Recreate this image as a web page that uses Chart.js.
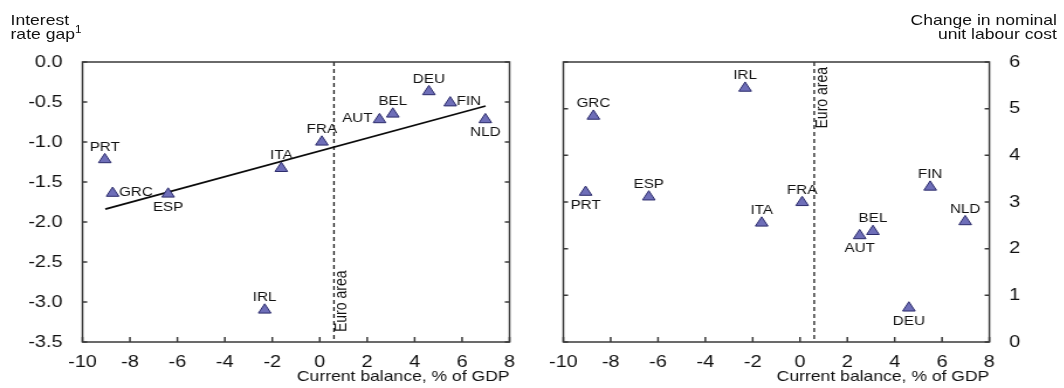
<!DOCTYPE html>
<html>
<head>
<meta charset="utf-8">
<script src="https://cdn.jsdelivr.net/npm/chart.js@4.4.1/dist/chart.umd.min.js"></script>
<style>
  html, body { margin: 0; padding: 0; background: #fff; }
  body { width: 1064px; height: 388px; overflow: hidden; position: relative; }
  /* charts are laid out on a narrower sheet and widened horizontally */
  #sheet {
    position: absolute; left: 0; top: 0;
    width: 909.4px; height: 388px;
    transform: scaleX(1.17); transform-origin: 0 0;
    font-family: 'Liberation Sans', Arial, Helvetica, sans-serif; color: #111;
  }
  canvas { position: absolute; top: 0; }
  .hdr { position: absolute; top: 12.8px; font-size: 15px; line-height: 14px; white-space: nowrap; }
  .hdr sup { font-size: 10px; position: relative; vertical-align: baseline; line-height: 0; }
</style>
</head>
<body>
<div id="sheet">
  <canvas id="gapChart" width="453" height="388" style="left:0;width:453px;height:388px"></canvas>
  <canvas id="ulcChart" width="456" height="388" style="left:453px;width:456px;height:388px"></canvas>
  <div class="hdr" style="left:9px">Interest<br>rate gap<sup style="top:-6px">1</sup></div>
  <div class="hdr" style="right:6px;text-align:right">Change in nominal<br>unit labour cost</div>
</div>
<script>
// Euro-area members
const countries = ['PRT', 'GRC', 'ESP', 'ITA', 'FRA', 'AUT', 'BEL', 'DEU', 'FIN', 'NLD', 'IRL'];
// Current account balance, % of GDP
const currentBalance = [-9.06, -8.73, -6.39, -1.62, 0.09, 2.52, 3.08, 4.60, 5.50, 6.98, -2.32];
// Interest rate gap
const rateGap = [-1.22, -1.64, -1.65, -1.33, -1.00, -0.72, -0.65, -0.37, -0.51, -0.72, -3.10];
// Change in nominal unit labour cost
const ulcChange = [3.21, 4.84, 3.11, 2.55, 2.99, 2.28, 2.37, 0.73, 3.32, 2.58, 5.44];

// Where each country label sits relative to its marker
const gapLabelPos = ['above', 'right', 'below', 'above', 'above', 'left', 'above', 'above', 'right', 'below', 'above'];
const ulcLabelPos = ['below', 'above', 'above', 'above', 'above', 'below', 'above', 'below', 'above', 'above', 'above'];

// Fitted line through the interest-rate-gap panel (end points)
const trendX = [-9.04, 6.99];
const trendY = [-1.84, -0.55];

// Euro-area current balance
const euroArea = 0.6;

// Tick values
const xTicks = [-10, -8, -6, -4, -2, 0, 2, 4, 6, 8];
const gapTicks = [-3.5, -3.0, -2.5, -2.0, -1.5, -1.0, -0.5, 0.0];
const ulcTicks = [0, 1, 2, 3, 4, 5, 6];

const FAMILY = "'Liberation Sans', Arial, Helvetica, sans-serif";
const INK = '#111';

// Dashed euro-area marker, country labels, framed plot box with inward ticks
const panelPlugin = {
  id: 'panel',
  beforeDatasetsDraw(chart, args, opts) {
    const { ctx, chartArea: a, scales: { x } } = chart;
    const ex = x.getPixelForValue(euroArea);
    ctx.save();
    ctx.strokeStyle = '#1a1a1a';
    ctx.lineWidth = 1.3;
    ctx.setLineDash([4, 3]);
    ctx.beginPath();
    ctx.moveTo(ex, a.top);
    ctx.lineTo(ex, a.bottom);
    ctx.stroke();
    ctx.setLineDash([]);
    ctx.translate(ex, opts.euroAtTop ? a.top + 5 : a.bottom - 10);
    ctx.rotate(-Math.PI / 2);
    ctx.font = '14px ' + FAMILY;
    ctx.fillStyle = INK;
    ctx.textBaseline = 'top';
    ctx.textAlign = opts.euroAtTop ? 'right' : 'left';
    ctx.fillText('Euro area', 0, 0);
    ctx.restore();
  },
  afterDatasetsDraw(chart, args, opts) {
    const { ctx } = chart;
    const meta = chart.getDatasetMeta(opts.pointDataset);
    ctx.save();
    ctx.font = '13px ' + FAMILY;
    ctx.fillStyle = INK;
    ctx.textBaseline = 'middle';
    meta.data.forEach((pt, i) => {
      const pos = opts.labelPos[i];
      const name = countries[i];
      if (pos === 'above') {
        ctx.textAlign = 'center';
        ctx.fillText(name, pt.x, pt.y - 12.5);
      } else if (pos === 'below') {
        ctx.textAlign = 'center';
        ctx.fillText(name, pt.x, pt.y + 13);
      } else if (pos === 'left') {
        ctx.textAlign = 'right';
        ctx.fillText(name, pt.x - 6, pt.y - 1);
      } else {
        ctx.textAlign = 'left';
        ctx.fillText(name, pt.x + 5.5, pt.y - 1);
      }
    });
    ctx.restore();
  },
  afterDraw(chart) {
    const { ctx, chartArea: a, scales: { x, y } } = chart;
    ctx.save();
    ctx.strokeStyle = '#3a3a3a';
    ctx.lineWidth = 1.5;
    ctx.beginPath();
    x.ticks.forEach(t => {
      const px = x.getPixelForValue(t.value);
      ctx.moveTo(px, a.bottom);
      ctx.lineTo(px, a.bottom - 5);
    });
    y.ticks.forEach(t => {
      const py = y.getPixelForValue(t.value);
      ctx.moveTo(a.left, py);
      ctx.lineTo(a.left + 4, py);
      ctx.moveTo(a.right, py);
      ctx.lineTo(a.right - 4, py);
    });
    ctx.stroke();
    ctx.strokeRect(a.left, a.top, a.right - a.left, a.bottom - a.top);
    ctx.restore();
  }
};

function xScale() {
  return {
    type: 'linear',
    min: -10,
    max: 8,
    afterBuildTicks: s => { s.ticks = xTicks.map(v => ({ value: v })); },
    afterFit: s => { s.height = 46; },
    grid: { display: false },
    border: { display: false },
    ticks: {
      padding: 2,
      maxRotation: 0,
      autoSkip: false,
      color: INK,
      font: { size: 17, family: FAMILY },
      callback: v => String(v)
    },
    title: {
      display: true,
      text: 'Current balance, % of GDP',
      align: 'end',
      color: INK,
      font: { size: 15, family: FAMILY },
      padding: { top: 0, bottom: 2.5 }
    }
  };
}

function markerSet(values) {
  return {
    type: 'scatter',
    data: currentBalance.map((v, i) => ({ x: v, y: values[i] })),
    pointStyle: 'triangle',
    pointRadius: 6.2,
    pointHoverRadius: 6.2,
    backgroundColor: '#6e6eb8',
    borderColor: '#2c2c6c',
    borderWidth: 1,
    order: 1
  };
}

const common = {
  responsive: false,
  animation: false,
  events: [],
  devicePixelRatio: 1
};

new Chart(document.getElementById('gapChart'), {
  type: 'scatter',
  data: {
    datasets: [
      markerSet(rateGap),
      {
        type: 'line',
        data: trendX.map((v, i) => ({ x: v, y: trendY[i] })),
        borderColor: '#0a0a0a',
        borderWidth: 1.8,
        pointRadius: 0,
        fill: false,
        order: 2
      }
    ]
  },
  options: Object.assign({}, common, {
    layout: { padding: { left: 0, right: 17.5, top: 62, bottom: 0 } },
    plugins: {
      legend: { display: false },
      tooltip: { enabled: false },
      panel: { pointDataset: 0, labelPos: gapLabelPos, euroAtTop: false }
    },
    scales: {
      x: xScale(),
      y: {
        type: 'linear',
        position: 'left',
        min: -3.5,
        max: 0,
        afterBuildTicks: s => { s.ticks = gapTicks.map(v => ({ value: v })); },
        afterFit: s => { s.width = 70.5; },
        grid: { display: false },
        border: { display: false },
        ticks: {
          padding: 9,
          color: INK,
          font: { size: 17, family: FAMILY },
          callback: v => Number(v).toFixed(1)
        }
      }
    }
  }),
  plugins: [panelPlugin]
});

new Chart(document.getElementById('ulcChart'), {
  type: 'scatter',
  data: { datasets: [markerSet(ulcChange)] },
  options: Object.assign({}, common, {
    layout: { padding: { left: 28.5, right: 0, top: 62, bottom: 0 } },
    plugins: {
      legend: { display: false },
      tooltip: { enabled: false },
      panel: { pointDataset: 0, labelPos: ulcLabelPos, euroAtTop: true }
    },
    scales: {
      x: xScale(),
      y: {
        type: 'linear',
        position: 'right',
        min: 0,
        max: 6,
        afterBuildTicks: s => { s.ticks = ulcTicks.map(v => ({ value: v })); },
        afterFit: s => { s.width = 63.4; },
        grid: { display: false },
        border: { display: false },
        ticks: {
          padding: 9,
          color: INK,
          font: { size: 17, family: FAMILY },
          callback: v => String(v)
        }
      }
    }
  }),
  plugins: [panelPlugin]
});
</script>
</body>
</html>
